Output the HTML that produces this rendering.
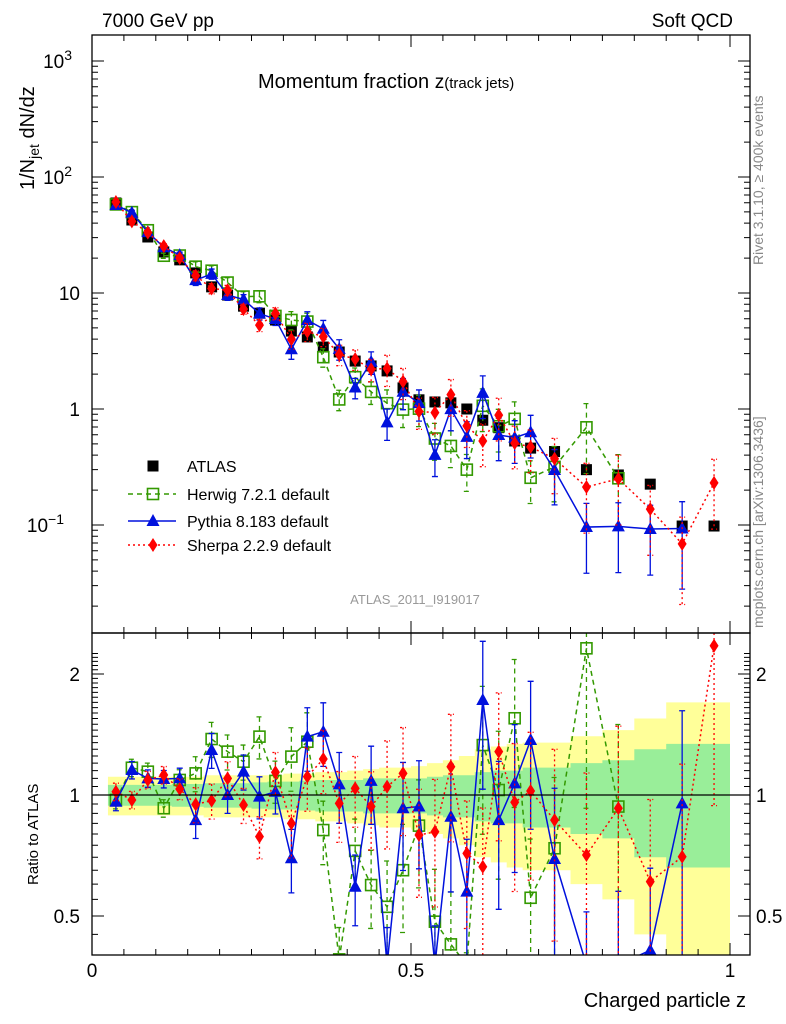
<!DOCTYPE html>
<html><head><meta charset="utf-8">
<style>
html,body{margin:0;padding:0;background:#fff;width:786px;height:1024px;overflow:hidden;}
svg{display:block;font-family:"Liberation Sans",sans-serif;overflow:hidden;}
</style></head>
<body>
<svg id="c" width="786" height="1024" viewBox="0 0 786 1024">
<defs>
<clipPath id="cm"><rect x="92" y="35" width="658" height="598"/></clipPath>
<clipPath id="cr"><rect x="92" y="633" width="658" height="322"/></clipPath>
</defs>
<g id="bands" clip-path="url(#cr)"></g>
<g id="mainG" clip-path="url(#cm)"></g>
<g id="ratioG" clip-path="url(#cr)"></g>
<g id="axes"></g>
<text x="102" y="27" font-size="19">7000 GeV pp</text>
<text x="733" y="27" font-size="19" text-anchor="end">Soft QCD</text>
<text x="258" y="88" font-size="20">Momentum fraction <tspan font-size="19">z</tspan><tspan font-size="15">(track jets)</tspan></text>
<text x="415" y="604" font-size="13" fill="#999" text-anchor="middle">ATLAS_2011_I919017</text>
<text transform="translate(763,265) rotate(-90)" font-size="14" fill="#888">Rivet 3.1.10, ≥ 400k events</text>
<text transform="translate(763,628) rotate(-90)" font-size="14" fill="#888">mcplots.cern.ch [arXiv:1306.3436]</text>
<text transform="translate(34,190) rotate(-90)" font-size="20">1/N<tspan font-size="14" dy="5">jet</tspan><tspan dy="-5"> dN/dz</tspan></text>
<text transform="translate(38,885) rotate(-90)" font-size="15">Ratio to ATLAS</text>
<text x="746" y="1007" font-size="20" text-anchor="end">Charged particle z</text>
<g id="legend"></g>
</svg>
<script>
const zCenters=[0.0375,0.0625,0.0875,0.1125,0.1375,0.1625,0.1875,0.2125,0.2375,0.2625,0.2875,0.3125,0.3375,0.3625,0.3875,0.4125,0.4375,0.4625,0.4875,0.5125,0.5375,0.5625,0.5875,0.6125,0.6375,0.6625,0.6875,0.725,0.775,0.825,0.875,0.925,0.975];
const binWidths=[0.025,0.025,0.025,0.025,0.025,0.025,0.025,0.025,0.025,0.025,0.025,0.025,0.025,0.025,0.025,0.025,0.025,0.025,0.025,0.025,0.025,0.025,0.025,0.025,0.025,0.025,0.025,0.05,0.05,0.05,0.05,0.05,0.05];
const atlas=[59.7,42.6,30.4,22.6,19.3,14.9,11.3,9.6,7.7,6.7,5.85,4.7,4.18,3.42,3.10,2.59,2.35,2.13,1.52,1.20,1.15,1.13,1.0,0.80,0.69,0.53,0.46,0.43,0.30,0.27,0.225,0.098,0.098];
const herwigRatio=[0.972,1.169,1.143,0.927,1.090,1.132,1.378,1.282,1.210,1.397,1.084,1.246,1.357,0.818,0.39,0.726,0.597,0.527,0.65,0.839,0.484,0.425,0.3,1.331,1.029,1.552,0.555,0.737,2.317,0.936,null,null,null];
const pythiaRatio=[0.962,1.154,1.100,1.096,1.100,0.866,1.294,1.0,1.143,0.991,1.019,0.696,1.397,1.437,1.063,0.591,1.084,0.36,0.927,0.936,0.35,0.883,0.575,1.723,0.866,1.069,1.370,0.693,0.32,0.36,0.411,0.953,null];
const sherpaRatio=[1.019,0.972,1.090,1.121,1.035,0.948,0.968,1.100,0.944,0.788,1.139,0.850,1.111,1.229,0.953,1.039,0.936,1.049,1.132,0.795,0.810,1.176,0.716,0.663,1.282,0.959,1.023,0.866,0.709,0.927,0.609,0.702,2.352];
const mcRelErr=[0.05,0.05,0.05,0.05,0.06,0.1,0.1,0.1,0.1,0.12,0.12,0.18,0.18,0.18,0.2,0.2,0.22,0.3,0.3,0.3,0.35,0.35,0.35,0.4,0.4,0.4,0.4,0.5,0.6,0.6,0.6,0.7,0.6];
const bandGreen=[0.06,0.06,0.06,0.06,0.065,0.065,0.07,0.07,0.07,0.075,0.08,0.08,0.085,0.09,0.09,0.09,0.1,0.1,0.1,0.1,0.11,0.12,0.12,0.14,0.15,0.15,0.17,0.17,0.2,0.22,0.3,0.34,0.34];
const bandYellow=[0.11,0.11,0.11,0.11,0.11,0.11,0.12,0.12,0.12,0.12,0.12,0.13,0.13,0.14,0.14,0.15,0.16,0.17,0.17,0.18,0.2,0.22,0.25,0.3,0.32,0.34,0.35,0.35,0.4,0.45,0.55,0.7,0.7];
const xTicks=[0,0.5,1];
const xTickLabels=["0","0.5","1"];
const ratioTicks=[0.5,1,2];
const ratioTickLabels=["0.5","1","2"];

const NS="http://www.w3.org/2000/svg";
const clamp=(v,a,b)=>Math.min(b,Math.max(a,v));
const X=z=>92+z*638;
const Y=v=>409-116*Math.log10(v);
const R=r=>795-121*Math.log2(r);
const YC=v=>clamp(Y(v),25,643);
const RC=r=>clamp(R(r),623,965);
function mk(tag,attrs,parent){const e=document.createElementNS(NS,tag);for(const k in attrs)e.setAttribute(k,attrs[k]);parent.appendChild(e);return e;}
const mainG=document.getElementById('mainG'),ratioG=document.getElementById('ratioG'),bands=document.getElementById('bands'),axes=document.getElementById('axes'),legend=document.getElementById('legend');

function band(arr,color,nm){
  let top=[],bot=[];
  zCenters.forEach((z,i)=>{const a=X(z-binWidths[i]/2),b=X(z+binWidths[i]/2);
    const u=RC(1+arr[i]),d=RC(Math.max(1-arr[i],0.05));
    top.push(a+','+u,b+','+u);bot.unshift(b+','+d,a+','+d);});
  const p=mk('polygon',{points:top.concat(bot).join(' '),fill:color},bands);
  
  
}
band(bandYellow,'#ffff99','syst-band');
band(bandGreen,'#99ee99','stat-band');

const series=[
 {name:'herwig',ratio:herwigRatio,color:'#339900',dash:'5,4',marker:'osq'},
 {name:'pythia',ratio:pythiaRatio,color:'#0011dd',dash:'',marker:'tri'},
 {name:'sherpa',ratio:sherpaRatio,color:'#ff0000',dash:'2,3',marker:'dia'}];

function marker(type,x,y,color,parent){
  let e;
  if(type==='sq') e=mk('rect',{x:x-5.5,y:y-5.5,width:11,height:11,fill:'#000'},parent);
  else if(type==='osq') e=mk('rect',{x:x-5.5,y:y-5.5,width:11,height:11,fill:'none',stroke:color,'stroke-width':1.6},parent);
  else if(type==='tri') e=mk('polygon',{points:`${x},${y-7} ${x-6.5},${y+5} ${x+6.5},${y+5}`,fill:color},parent);
  else e=mk('polygon',{points:`${x},${y-7} ${x-4.5},${y} ${x},${y+7} ${x+4.5},${y}`,fill:color},parent);
  return e;
}

zCenters.forEach((z,i)=>{
  const m=marker('sq',X(z),Y(atlas[i]),'#000',mainG);
  
  
});
series.forEach(s=>{
  [[mainG,YC],[ratioG,RC]].forEach(([g,f])=>{
    const isMain=(g===mainG);
    let pts=[];
    zCenters.forEach((z,i)=>{if(s.ratio[i]!=null){const val=isMain?s.ratio[i]*atlas[i]:s.ratio[i];pts.push(X(z)+','+f(val));}});
    const l=mk('polyline',{points:pts.join(' '),fill:'none',stroke:s.color,'stroke-width':1.5,'stroke-dasharray':s.dash},g);
    
    
    zCenters.forEach((z,i)=>{
      const r=s.ratio[i]; if(r==null)return;
      const x=X(z),e=mcRelErr[i];
      const val=isMain?r*atlas[i]:r;
      const y1=f(val*(1+e)),y2=f(Math.max(val*(1-e),1e-4));
      const eb=mk('path',{d:`M${x},${y1}V${y2}M${x-3},${y1}h6M${x-3},${y2}h6`,stroke:s.color,'stroke-width':1.3,'stroke-dasharray':s.dash,fill:'none'},g);
      
      
      const m=marker(s.marker,x,f(val),s.color,g);
      
      
    });
  });
});
const rl=mk('line',{x1:92,x2:750,y1:R(1),y2:R(1),stroke:'#000','stroke-width':1.2},ratioG);



const f1=mk('rect',{x:92,y:35,width:658,height:598,fill:'none',stroke:'#000','stroke-width':1.3},axes);


const f2=mk('rect',{x:92,y:633,width:658,height:322,fill:'none',stroke:'#000','stroke-width':1.3},axes);



for(let k=0;k<=20;k++){const z=k*0.05,x=X(z),L=(k%10===0)?12:6;
  mk('path',{d:`M${x},955v-${L}M${x},633v-${L}M${x},633v${L}M${x},35v${L}`,stroke:'#000','stroke-width':1},axes);}
xTicks.forEach((t,i)=>{const tx=mk('text',{x:X(t),y:977,'font-size':19,'text-anchor':'middle'},axes);tx.textContent=xTickLabels[i];
  
  });
for(let d=-2;d<=3;d++){for(let m=1;m<10;m++){const v=m*Math.pow(10,d),y=Y(v);if(y<35||y>633)continue;
  const L=m===1?12:6;mk('path',{d:`M92,${y}h${L}M750,${y}h-${L}`,stroke:'#000','stroke-width':1},axes);}}
const yLabs=[[1000,'10','3'],[100,'10','2'],[10,'10',''],[1,'1',''],[0.1,'10','−1']];
yLabs.forEach(([v,b,e])=>{const t=mk('text',{x:e?(e==='−1'?64:72):80,y:Y(v)+7,'font-size':19,'text-anchor':'end'},axes);
  t.textContent=b; if(e){const s=mk('tspan',{'font-size':14,dy:-8},t);s.textContent=e;}
  
  });
for(let k=0;k<40;k++){const v=0.3+k*0.05;const y=R(v);if(y<633||y>955)continue;
  const major=Math.abs(v-0.5)<1e-6||Math.abs(v-1)<1e-6||Math.abs(v-2)<1e-6;const L=major?12:6;
  mk('path',{d:`M92,${y}h${L}M750,${y}h-${L}`,stroke:'#000','stroke-width':1},axes);}
ratioTicks.forEach((t,i)=>{
  const a=mk('text',{x:80,y:R(t)+7,'font-size':19,'text-anchor':'end'},axes);a.textContent=ratioTickLabels[i];
  
  
  const b=mk('text',{x:756,y:R(t)+7,'font-size':19},axes);b.textContent=ratioTickLabels[i];
  
  });

const legItems=[['sq','#000','','ATLAS',466],['osq','#339900','5,4','Herwig 7.2.1 default',494],['tri','#0011dd','','Pythia 8.183 default',521],['dia','#ff0000','2,3','Sherpa 2.2.9 default',545]];
legItems.forEach(([mt,c,d,lab,y])=>{
  const g=mk('g',{},legend);
  
  
  if(mt!=='sq')mk('line',{x1:128,x2:176,y1:y,y2:y,stroke:c,'stroke-width':1.5,'stroke-dasharray':d},g);
  marker(mt,153,y,c,g);
  const t=mk('text',{x:187,y:y+6,'font-size':16},g);t.textContent=lab;
});
</script>
</body></html>
